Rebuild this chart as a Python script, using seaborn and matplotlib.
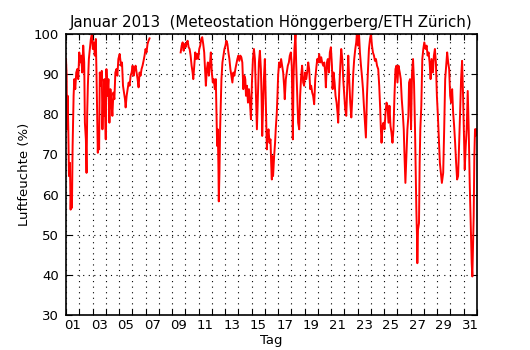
import numpy as np
import pandas as pd
import matplotlib
matplotlib.use("Agg")
import matplotlib.pyplot as plt
import seaborn as sns

# Day of January (fractional, 1.0 = Jan 1 00:00) and relative humidity (%)
days_a = [1.000, 1.05, 1.075, 1.125, 1.175, 1.225, 1.30, 1.35, 1.40, 1.45, 1.50, 1.575, 1.625, 1.70, 1.775,
          1.85, 1.925, 2.0, 2.075, 2.15, 2.225, 2.30, 2.375, 2.425, 2.50, 2.55, 2.60, 2.65, 2.725, 2.80,
          2.875, 2.95, 3.025, 3.10, 3.175, 3.25, 3.30, 3.35, 3.40, 3.45, 3.50, 3.55, 3.625, 3.70, 3.75,
          3.80, 3.85, 3.90, 3.95, 4.0, 4.05, 4.125, 4.20, 4.275, 4.35, 4.425, 4.50, 4.575, 4.65, 4.725,
          4.80, 4.875, 4.95, 5.05, 5.15, 5.225, 5.30, 5.375, 5.45, 5.50, 5.575, 5.65, 5.725, 5.80, 5.875,
          5.95, 6.025, 6.10, 6.175, 6.25, 6.325, 6.40, 6.475, 6.55, 6.625, 6.70, 6.775, 6.85, 6.925, 7.0,
          7.075, 7.15, 7.225, 7.30]
hum_a = [93.75, 89.6, 76.25, 84.6, 76.25, 64.6, 67.9, 56.25, 62.1, 56.7, 72.1, 84.6, 88.75, 86.25, 90.4,
         91.25, 88.75, 95.4, 92.9, 94.6, 90.4, 97.1, 92.9, 77.9, 73.75, 65.4, 80.4, 87.1, 93.75, 96.25,
         98.75, 100.0, 96.25, 97.9, 94.6, 98.75, 90.4, 80.4, 70.4, 76.25, 71.25, 90.4, 87.1, 90.8, 76.25,
         84.6, 79.6, 88.75, 80.4, 73.75, 91.25, 84.6, 88.75, 77.9, 86.25, 82.9, 79.6, 85.4, 83.75, 90.4,
         91.25, 89.6, 93.75, 95.0, 92.1, 92.9, 87.1, 85.4, 83.75, 81.7, 84.6, 86.25, 87.9, 87.1, 89.6,
         90.4, 92.1, 89.6, 91.25, 92.1, 90.4, 88.75, 86.7, 90.4, 89.6, 91.25, 92.1, 93.3, 94.6, 96.25,
         95.4, 97.5, 98.3, 98.9]

days_b = [9.65, 9.725, 9.80, 9.875, 9.95, 10.025, 10.10, 10.175, 10.25, 10.325, 10.40, 10.475, 10.55, 10.60,
          10.675, 10.75, 10.825, 10.90, 10.975, 11.05, 11.125, 11.20, 11.275, 11.35, 11.425, 11.475, 11.55,
          11.625, 11.70, 11.775, 11.85, 11.925, 12.0, 12.075, 12.15, 12.225, 12.30, 12.35, 12.40, 12.45,
          12.50, 12.525, 12.575, 12.625, 12.675, 12.725, 12.80, 12.875, 12.95, 13.025, 13.10, 13.175, 13.25,
          13.325, 13.40, 13.475, 13.55, 13.625, 13.70, 13.775, 13.85, 13.925, 14.0, 14.075, 14.15, 14.225,
          14.30, 14.375, 14.45, 14.525, 14.575, 14.65, 14.725, 14.80, 14.875, 14.95, 15.025, 15.10, 15.175,
          15.25, 15.325, 15.40, 15.475, 15.55, 15.625, 15.70, 15.75, 15.80, 15.85, 15.925, 16.0, 16.05,
          16.10, 16.15, 16.20, 16.275, 16.35, 16.425, 16.475, 16.525,
          16.55, 16.62, 16.70, 16.77, 16.82, 16.90, 16.95, 17.0, 17.075, 17.15, 17.225, 17.30, 17.38, 17.45,
          17.50, 17.58, 17.65, 17.73, 17.81, 17.88, 17.96, 18.03, 18.11, 18.16, 18.23, 18.31, 18.36, 18.44,
          18.51, 18.59, 18.66, 18.74, 18.81, 18.89, 18.96, 19.04, 19.12, 19.19, 19.27, 19.34, 19.42, 19.49,
          19.57, 19.64, 19.72, 19.80, 19.87, 19.95, 20.02, 20.10, 20.17, 20.25, 20.32, 20.40, 20.48, 20.55,
          20.60, 20.68, 20.75, 20.83, 20.90, 20.98, 21.06, 21.11, 21.18, 21.26, 21.33, 21.41, 21.48, 21.53,
          21.61, 21.69, 21.76, 21.84, 21.91, 21.99, 22.06, 22.14, 22.21, 22.29, 22.36, 22.44, 22.52, 22.59,
          22.67, 22.74, 22.82, 22.89, 22.94, 23.02, 23.10, 23.17, 23.25, 23.32, 23.40, 23.47, 23.55, 23.62,
          23.70, 23.78, 23.85, 23.93, 24.0, 24.08, 24.15, 24.23, 24.30, 24.38, 24.46,
          24.55, 24.625, 24.70, 24.75, 24.80, 24.875, 24.95, 25.025, 25.10, 25.175, 25.25, 25.325, 25.40,
          25.475, 25.55, 25.625, 25.70, 25.775, 25.85, 25.925, 26.0, 26.075, 26.175, 26.25, 26.325, 26.40,
          26.475, 26.525, 26.60, 26.675, 26.75, 26.825, 26.875, 26.95, 27.025, 27.10, 27.175, 27.25, 27.325,
          27.375, 27.425, 27.475, 27.50, 27.55, 27.625, 27.675, 27.725, 27.80, 27.875, 27.95, 28.025, 28.125,
          28.20, 28.275, 28.35, 28.425, 28.50, 28.575, 28.675, 28.75, 28.825, 28.90, 28.975, 29.05, 29.125,
          29.20, 29.275, 29.35, 29.45, 29.525, 29.60, 29.675, 29.75, 29.825, 29.90, 29.975, 30.05, 30.125,
          30.20, 30.275, 30.35, 30.425, 30.50, 30.575, 30.65, 30.725, 30.80, 30.875, 30.95, 31.025, 31.075,
          31.15, 31.225, 31.30, 31.375, 31.45, 31.50, 31.55, 31.60, 31.65, 31.70, 31.75, 31.80, 31.85, 31.90,
          31.95]
hum_b = [95.4, 97.1, 97.9, 95.8, 97.5, 96.7, 97.9, 98.3, 96.7, 96.25, 94.6, 92.1, 90.4, 88.75,
         92.1, 95.4, 93.75, 95.0, 93.75, 96.25, 97.1, 98.75, 99.2, 97.5, 95.4, 92.1, 87.1,
         91.25, 92.9, 89.6, 92.1, 95.4, 90.4, 87.9, 88.75, 86.25, 88.75, 80.4, 72.1, 76.25,
         66.25, 58.3, 65.4, 76.25, 82.9, 88.75, 92.9, 94.6, 96.25, 97.1, 98.3, 97.5, 95.4,
         93.75, 91.25, 89.6, 87.9, 90.4, 89.6, 91.25, 92.5, 93.75, 94.6, 93.3, 94.6, 94.2,
         92.9, 86.25, 89.6, 88.75, 84.6, 87.1, 82.9, 86.25, 82.9, 78.75, 87.9, 93.75, 96.25,
         93.75, 84.6, 76.25, 84.6, 92.9, 95.8, 91.25, 84.6, 74.6, 80.4, 88.75, 93.75, 86.25,
         79.6, 71.25, 74.6, 76.25, 72.9, 73.75, 67.9, 63.75,
         69.6, 64.6, 69.6, 72.9, 76.25, 80.4, 84.6, 89.6, 92.9, 91.7, 93.75, 92.1, 90.4, 87.1,
         83.75, 88.75, 90.4, 92.1, 92.9, 94.6, 95.4, 92.1, 73.75, 88.75, 96.25, 100.0, 92.9, 84.6,
         77.9, 76.25, 84.6, 89.6, 92.1, 87.9, 87.1, 90.4, 88.75, 90.4, 92.9, 91.25, 86.25, 87.1,
         85.4, 84.6, 82.5, 88.75, 91.25, 93.75, 92.9, 95.0, 92.9, 94.2, 92.9, 92.1, 92.9, 90.4,
         86.7, 92.9, 93.75, 90.4, 95.4, 96.7, 92.1, 86.25, 90.4, 87.9, 84.6, 82.9, 80.4, 77.9,
         86.25, 92.1, 96.25, 93.75, 88.75, 84.6, 81.25, 79.6, 86.25, 94.6, 88.75, 82.9, 79.2, 83.75,
         90.4, 93.75, 96.25, 97.9, 100.0, 97.1, 100.0, 95.4, 92.1, 89.6, 86.25, 82.1, 77.9, 74.2,
         84.6, 91.25, 96.25, 98.75, 100.0, 97.1, 95.4, 94.6, 93.3, 93.75, 92.1,
         91.25, 87.1, 81.25, 76.25, 72.9, 77.1, 77.9, 76.25, 80.4, 82.9, 82.1, 77.9, 82.1,
         77.1, 75.4, 72.9, 76.25, 84.6, 91.25, 92.1, 87.9, 92.1, 90.4, 88.75, 83.75, 80.4,
         76.25, 70.4, 62.9, 69.6, 76.25, 79.6, 87.9, 88.75, 76.25, 90.4, 93.75, 87.9, 76.25,
         66.25, 56.25, 49.6, 42.9, 51.25, 52.9, 67.9, 76.25, 82.1, 93.75, 96.25, 97.9, 96.25,
         97.1, 94.6, 95.4, 92.9, 88.75, 93.75, 90.4, 94.6, 96.25, 92.9, 84.6, 79.6, 73.75,
         67.9, 65.4, 62.9, 65.4, 76.25, 88.75, 92.1, 95.4, 92.9, 91.25, 84.6, 82.9, 86.25,
         80.4, 77.1, 72.9, 67.9, 63.75, 64.6, 72.1, 80.4, 88.75, 93.3, 84.6, 73.75, 66.25,
         72.1, 76.25, 85.8, 76.25, 62.9, 56.25, 49.6, 42.9, 39.6, 47.1, 54.6, 69.6, 76.25, 74.6,
         76.25]

tick_days = [1, 3, 5, 7, 9, 11, 13, 15, 17, 19, 21, 23, 25, 27, 29, 31]
tick_labels = ["01", "03", "05", "07", "09", "11", "13", "15", "17", "19", "21", "23", "25", "27", "29", "31"]
y_ticks = [30, 40, 50, 60, 70, 80, 90, 100]

df = pd.concat([
    pd.DataFrame({"Tag": days_a, "Luftfeuchte": hum_a, "seg": 0}),
    pd.DataFrame({"Tag": days_b, "Luftfeuchte": hum_b, "seg": 1}),
], ignore_index=True)

plt.rcParams["font.family"] = ["DejaVu Sans"]
fig = plt.figure(figsize=(5.3, 3.5), dpi=100)
ax = fig.add_axes([0.1245, 0.1, 0.7755, 0.803])

sns.lineplot(data=df, x="Tag", y="Luftfeuchte", units="seg", estimator=None,
             color="#ff0000", linewidth=1.4, sort=False, ax=ax)

ax.set_xlim(1, 32)
ax.set_ylim(30, 100)
ax.set_xticks(np.arange(1, 33))
ax.set_xticklabels([])
ax.set_xticks([d + 0.5 for d in tick_days], minor=True)
ax.set_xticklabels(tick_labels, minor=True, fontsize=9.5)
ax.set_yticks(y_ticks)
ax.set_yticklabels([str(v) for v in y_ticks], fontsize=9.5)
ax.tick_params(axis="x", which="major", direction="in", length=4, top=True, bottom=True, width=0.8)
ax.tick_params(axis="x", which="minor", length=0, pad=3)
ax.tick_params(axis="y", which="major", direction="in", length=4, right=True, left=True, width=0.8, pad=5)
ax.grid(True, which="major", color="black", linestyle=(0, (1, 4)), linewidth=0.8)
for s in ax.spines.values():
    s.set_linewidth(1.2)
    s.set_color("black")

ax.set_xlabel("Tag", fontsize=9.5, labelpad=1)
ax.set_ylabel("Luftfeuchte (%)", fontsize=9.5, labelpad=2)
ax.set_title("Januar 2013  (Meteostation Hönggerberg/ETH Zürich)", fontsize=10.8, pad=5)

fig.savefig("out.png", dpi=100, facecolor="white")
